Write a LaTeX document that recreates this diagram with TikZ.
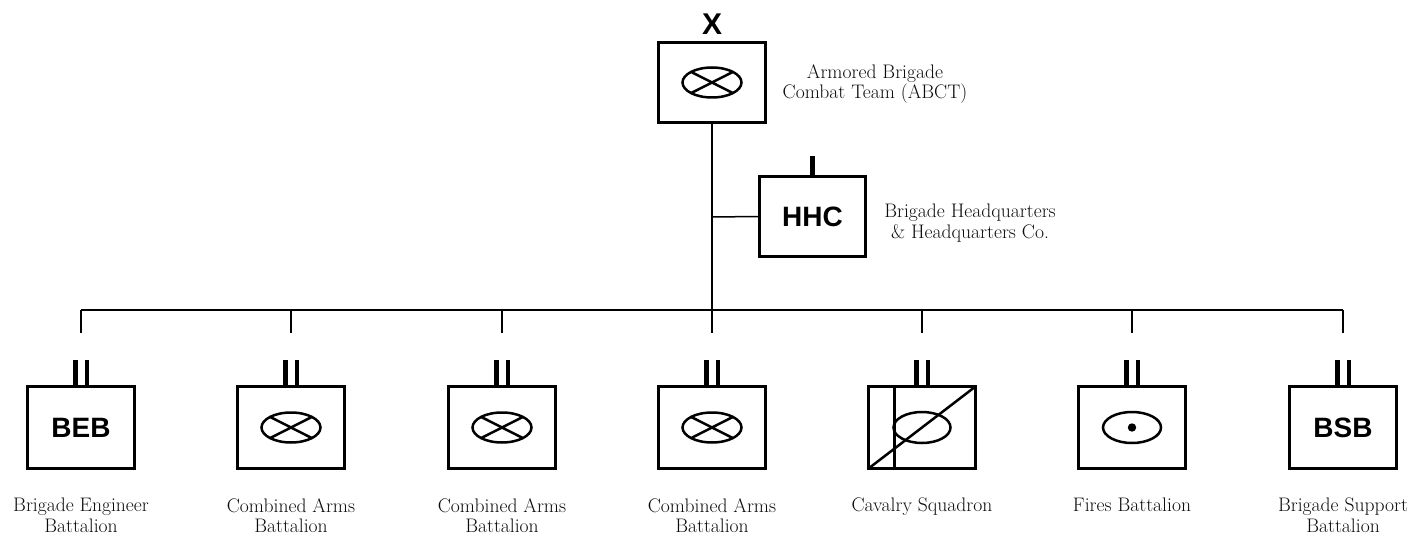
\documentclass[tikz,border=0pt]{standalone}
\usepackage{fontspec}
\newfontfamily\echfont{Liberation Sans}
\begin{document}
\begin{tikzpicture}[x=1pt,y=-1pt,
  unitbox/.style={draw=black, line width=2.8pt, minimum width=107pt, minimum height=82pt, inner sep=0pt, fill=white},
  hqbox/.style={unitbox, minimum width=106pt, minimum height=80pt},
  conn/.style={draw=black, line width=1.5pt},
  symline/.style={draw=black, line width=2.5pt},
  echbar/.style={draw=black, line width=4.6pt},
  abbr/.style={font=\echfont\bfseries\fontsize{28}{30}\selectfont},
  caption/.style={font=\fontsize{19.6}{20.5}\selectfont, text=black!95, align=center, anchor=north, inner sep=0pt},
  armor/.style={path picture={
    \draw[symline] (path picture bounding box.center) ellipse (29.5pt and 15pt);
    \draw[symline] ([shift={(-20.9pt,10.6pt)}]path picture bounding box.center) -- ([shift={(20.9pt,-10.6pt)}]path picture bounding box.center);
    \draw[symline] ([shift={(-20.9pt,-10.6pt)}]path picture bounding box.center) -- ([shift={(20.9pt,10.6pt)}]path picture bounding box.center);
  }},
  fires/.style={path picture={
    \draw[symline] (path picture bounding box.center) ellipse (29pt and 15.5pt);
    \fill[black] (path picture bounding box.center) circle (4.2pt);
  }},
  cavalry/.style={path picture={
    \draw[symline] (path picture bounding box.center) ellipse (28.5pt and 15.5pt);
    \draw[symline] ([xshift=26pt]path picture bounding box.south west) -- ([xshift=26pt]path picture bounding box.north west);
    \draw[symline] (path picture bounding box.south west) -- (path picture bounding box.north east);
  }}
]
\useasboundingbox (0,0) rectangle (1423,537);

% brigade headquarters
\node[unitbox, armor, minimum height=80pt] (abct) at (712,82.5) {};
\node[abbr, anchor=south, inner sep=0pt, font=\echfont\bfseries\fontsize{30}{32}\selectfont] (echx) at (712,35) {X};
\node[caption] (abctlbl) at (875,64) {Armored Brigade\\Combat Team (ABCT)};

% headquarters company
\node[hqbox, abbr] (hhc) at (812.5,216.5) {HHC};
\draw[echbar] (hhc.north) -- ++(0,-19);
\node[caption] (hhclbl) at (970,204) {Brigade Headquarters\\\& Headquarters Co.};

% trunk, company branch and bus
\coordinate (trunkhq) at (712,217);
\coordinate (busl) at (81,310);
\coordinate (busr) at (1343,310);
\coordinate (busm) at (712,310);
\draw[conn] (abct.south) -- (busm);
\draw[conn] (trunkhq) -- (hhc.west);
\draw[conn] (busl) -- (busr);

% battalions
\foreach \nm/\xx/\sty/\txt/\lbl in {
  beb/81/{}/BEB/{Brigade Engineer\\Battalion},
  cabA/291/armor/{}/{Combined Arms\\Battalion},
  cabB/502/armor/{}/{Combined Arms\\Battalion},
  cabC/712/armor/{}/{Combined Arms\\Battalion},
  cav/922/cavalry/{}/{Cavalry Squadron},
  fa/1132/fires/{}/{Fires Battalion},
  bsb/1343/{}/BSB/{Brigade Support\\Battalion}}{
  \node[unitbox, abbr, \sty] (\nm) at (\xx,427.5) {\txt};
  \coordinate (\nm drop) at (\xx,333);
  \draw[conn] (\xx,310) -- (\nm drop);
  \draw[echbar] ([xshift=-5.8pt]\nm.north) -- ++(0,-25);
  \draw[echbar] ([xshift=5.8pt]\nm.north) -- ++(0,-25);
  \node[caption] (\nm lbl) at (\xx,498) {\lbl};
}
\end{tikzpicture}
\end{document}
